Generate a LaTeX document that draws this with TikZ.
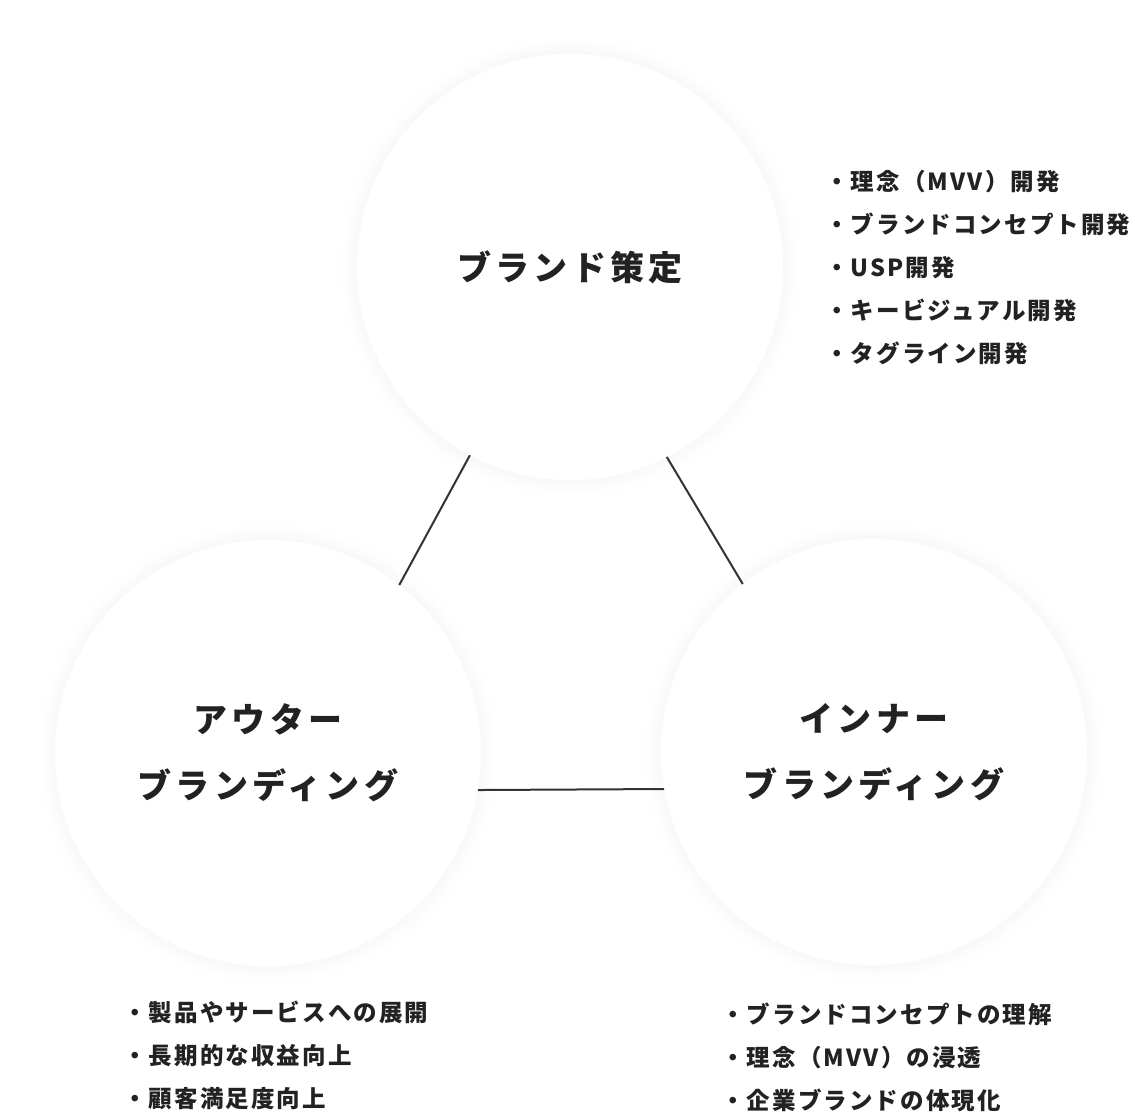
\documentclass[tikz,border=0pt]{standalone}
\usepackage{fontspec}
\newfontfamily\jpbig[LetterSpace=12]{Noto Sans CJK JP}
\newfontfamily\jpsmall[LetterSpace=9]{Noto Sans CJK JP}
\definecolor{ink}{HTML}{222222}
\definecolor{linec}{HTML}{333333}
\begin{document}
\begin{tikzpicture}[x=1pt,y=-1pt,
  bubble/.style={circle,fill=white,draw=none,minimum size=426pt,inner sep=0pt,
    align=center,text=ink,font=\jpbig\bfseries\fontsize{34}{66}\selectfont},
  listtext/.style={anchor=west,align=left,inner sep=0pt,text=ink,
    font=\jpsmall\bfseries\fontsize{23.5}{43}\selectfont},
  link/.style={draw=linec,line width=2pt}]
\useasboundingbox (0,0) rectangle (1135,1117);
\fill[white] (0,0) rectangle (1135,1117);
% soft glow behind circles
\foreach \cx/\cy in {570/267,268/753,874/752}{
  \fill[black!0.5] (\cx,\cy) circle (229pt);
  \fill[black!1.1] (\cx,\cy) circle (224pt);
  \fill[black!1.8] (\cx,\cy) circle (219pt);
  \fill[black!2.5] (\cx,\cy) circle (215.5pt);
}
\node[bubble] (top) at (570,267) {ブランド策定};
\node[bubble] (outer) at (268,753) {アウター\\ブランディング};
\node[bubble] (inner) at (874,752) {インナー\\ブランディング};
\draw[link] (top.242.5) -- (outer.52.5);
\draw[link] (top.297) -- (inner.128.2);
\draw[link] (outer.350) -- (inner.190);
\node[listtext] (l1) at (825,268) {・理念（MVV）開発\\・ブランドコンセプト開発\\・USP開発\\・キービジュアル開発\\・タグライン開発};
\node[listtext] (l2) at (123,1055) {・製品やサービスへの展開\\・長期的な収益向上\\・顧客満足度向上};
\node[listtext] (l3) at (721,1057) {・ブランドコンセプトの理解\\・理念（MVV）の浸透\\・企業ブランドの体現化};
\end{tikzpicture}
\end{document}
